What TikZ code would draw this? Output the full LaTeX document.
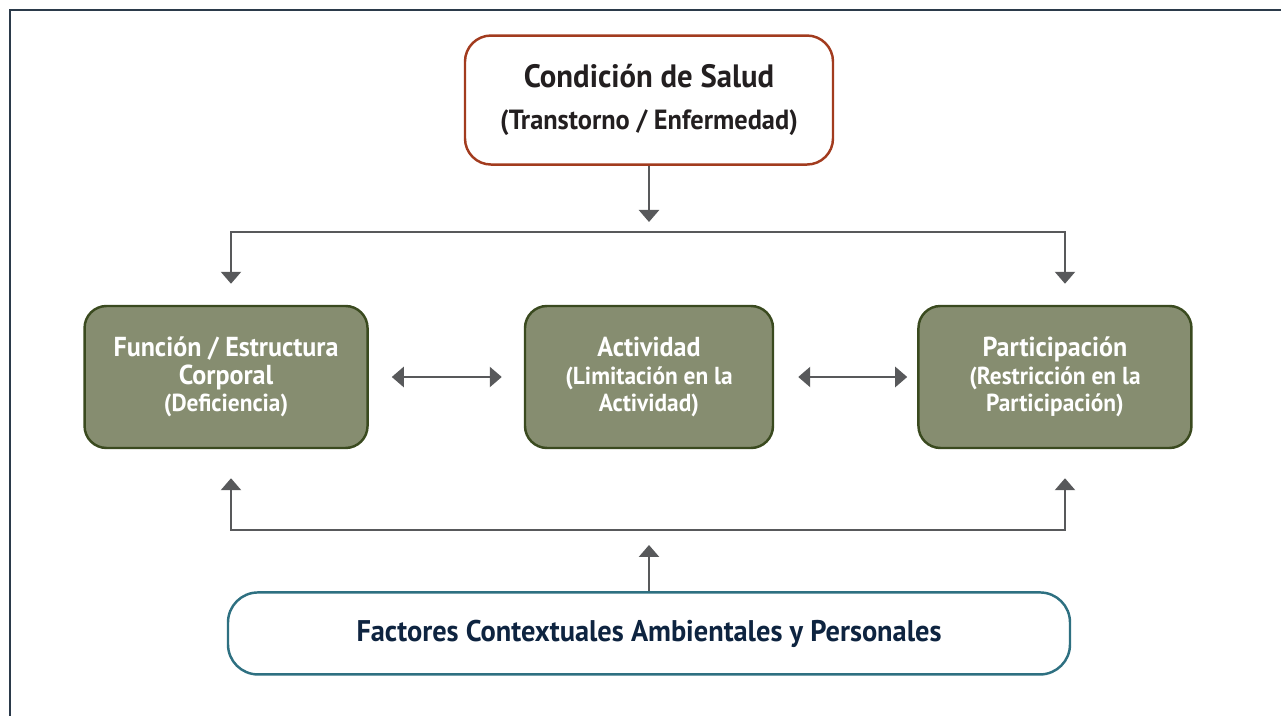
\documentclass[tikz,border=0pt]{standalone}
\usepackage{fontspec}
\setmainfont{PT Sans}[FakeStretch=0.95]
\usetikzlibrary{arrows.meta}
\usetikzlibrary{positioning}
\definecolor{healthred}{HTML}{A23B1E}
\definecolor{boxgreen}{HTML}{868D70}
\definecolor{boxgreenline}{HTML}{3A4A1F}
\definecolor{linkgray}{HTML}{58595B}
\definecolor{contextteal}{HTML}{2E7081}
\definecolor{contextnavy}{HTML}{0E2440}
\definecolor{textdark}{HTML}{231F20}
\definecolor{framenavy}{HTML}{2B3A4A}
\newcommand\subline{\fontsize{7.0}{7.9}\selectfont}
\tikzset{
	every node/.style={align=center},
	%
	block/.style={
		rounded corners=0.22cm, draw, line width=0.7pt, inner sep=0pt},
	health box/.style={block, draw=healthred, fill=white, text=textdark,
		minimum width=3.68cm, minimum height=1.29cm, rounded corners=0.26cm},
	domain box/.style={block, draw=boxgreenline, fill=boxgreen, text=white,
		minimum height=1.42cm,
		font=\fontsize{7.8}{7.9}\selectfont\bfseries},
	context box/.style={block, draw=contextteal, fill=white, text=contextnavy,
		minimum width=8.42cm, minimum height=0.82cm, rounded corners=0.3cm,
		font=\fontsize{8.5}{9}\selectfont\bfseries},
	%
	link line/.style={draw=linkgray, line width=0.7pt},
	flow/.style={link line, -{Triangle[width=0.2cm, length=0.12cm]}},
	flow both/.style={link line,
		{Triangle[width=0.2cm, length=0.12cm]}-{Triangle[width=0.2cm, length=0.12cm]}},
}

\begin{document}
\begin{tikzpicture}
	\useasboundingbox (0,0) rectangle (12.81,7.16);
	\clip (0,0) rectangle (12.81,7.16);
	\draw [framenavy, line width=0.6pt] (0.10,-1) rectangle (14,7.06);
	%
	\node (act) [domain box, minimum width=2.48cm] at (6.49,3.39)
		{Actividad\\
		\subline (Limitación en la\\
		\subline Actividad)};
	\node (func) [domain box, minimum width=2.83cm, left=1.55cm of act]
		{Función / Estructura\\
		Corporal\\
		\subline (Deficiencia)};
	\node (part) [domain box, minimum width=2.73cm, right=1.43cm of act]
		{Participación\\
		\subline (Restricción en la\\
		\subline Participación)};
	\node (cond) [health box, above=1.39cm of act]
		{\fontsize{9.2}{11.1}\selectfont\bfseries Condición de Salud\\
		\fontsize{7.9}{11.1}\selectfont\bfseries (Transtorno / Enfermedad)};
	\node (ctx) [context box, below=1.42cm of act]
		{Factores Contextuales Ambientales y Personales};
	%
	\coordinate (fork-top-l) at (2.31,4.84);
	\coordinate (fork-top-r) at (10.65,4.84);
	\coordinate (fork-bot-l) at (2.31,1.86);
	\coordinate (fork-bot-r) at (10.65,1.86);
	%
	\draw [flow, shorten >=0.10cm] (cond) -- (cond |- fork-top-l);
	\draw [flow both, shorten <=0.21cm, shorten >=0.21cm]
		(fork-top-l |- func.north) |- (fork-top-r) -- (fork-top-r |- part.north);
	\draw [flow both, shorten <=0.23cm, shorten >=0.22cm] (func) -- (act);
	\draw [flow both, shorten <=0.24cm, shorten >=0.10cm] (act) -- (part);
	\draw [flow both, shorten <=0.29cm, shorten >=0.29cm]
		(fork-bot-l |- func.south) |- (fork-bot-r) -- (fork-bot-r |- part.south);
	\draw [flow, shorten >=0.15cm] (ctx) -- (ctx |- fork-bot-l);
\end{tikzpicture}
\end{document}
